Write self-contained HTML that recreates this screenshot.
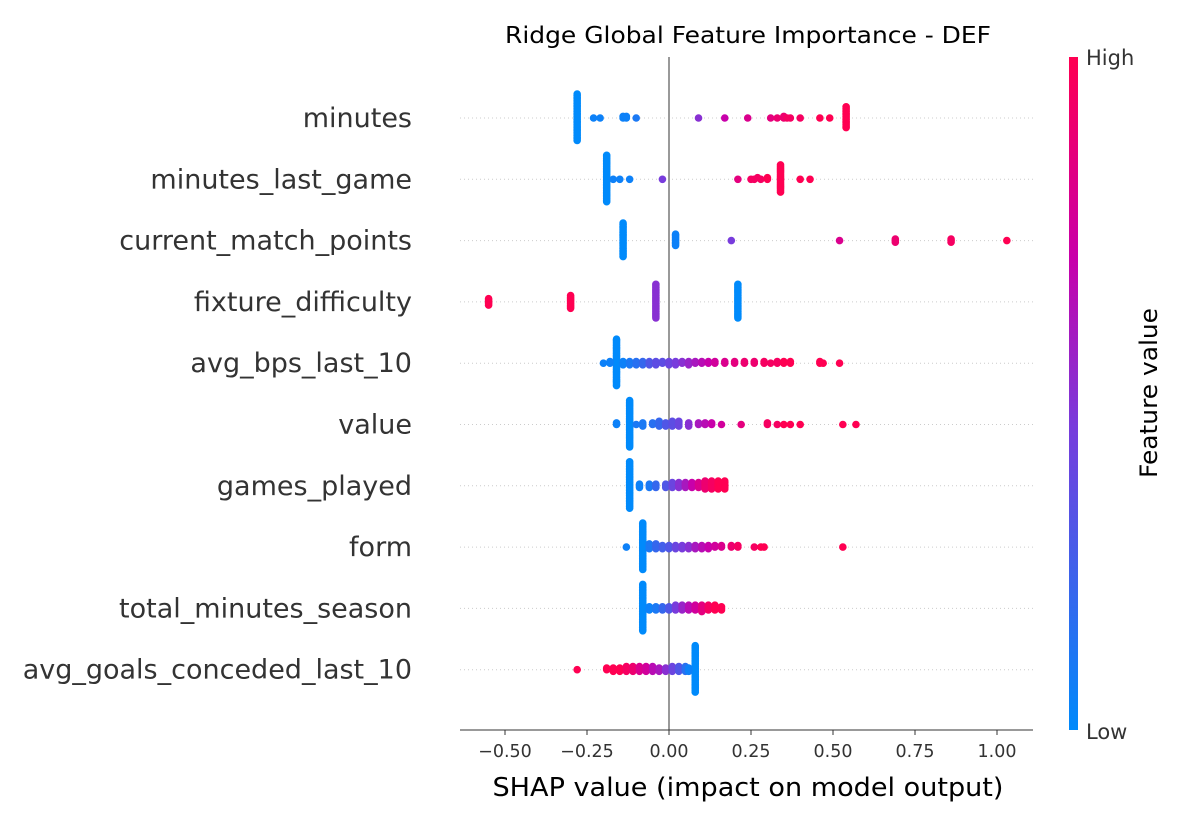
<!DOCTYPE html>
<html><head><meta charset="utf-8"><style>
body{margin:0;background:#fff;}
svg text{font-family:"DejaVu Sans","Liberation Sans",sans-serif;}
</style></head><body>
<svg id="chart" width="1200" height="825" viewBox="0 0 1200 825" xmlns="http://www.w3.org/2000/svg">
<defs>
<linearGradient id="cbar" x1="0" y1="1" x2="0" y2="0">
<stop offset="0" stop-color="rgb(0,138,251)"/>
<stop offset="0.45" stop-color="rgb(120,60,220)"/>
<stop offset="0.7" stop-color="rgb(200,0,170)"/>
<stop offset="1" stop-color="rgb(255,0,82)"/>
</linearGradient>
</defs>
<text x="748" y="43" font-size="23" textLength="486" lengthAdjust="spacingAndGlyphs" text-anchor="middle" fill="#000">Ridge Global Feature Importance - DEF</text>
<g id="grid"></g>
<line x1="669" y1="57" x2="669" y2="730" stroke="#999" stroke-width="2"/>
<g id="dots"></g>
<g id="ylabels"></g>
<line x1="460" y1="730" x2="1033" y2="730" stroke="#333" stroke-width="1"/>
<g id="xticks"></g>
<text x="748" y="796" font-size="26" textLength="511" lengthAdjust="spacingAndGlyphs" text-anchor="middle" fill="#000">SHAP value (impact on model output)</text>
<rect x="1069" y="57" width="9" height="673" fill="url(#cbar)"/>
<text x="1086" y="65" font-size="21" fill="#333">High</text>
<text x="1086" y="739" font-size="21" fill="#333">Low</text>
<text x="0" y="0" font-size="24" textLength="170" lengthAdjust="spacingAndGlyphs" fill="#000" text-anchor="middle" transform="translate(1157,393) rotate(-90)">Feature value</text>
</svg>
<script>
const features = ["minutes","minutes_last_game","current_match_points","fixture_difficulty","avg_bps_last_10","value","games_played","form","total_minutes_season","avg_goals_conceded_last_10"];
const xTicks = [-0.5,-0.25,0,0.25,0.5,0.75,1.0];
const xTickLabels = ["−0.50","−0.25","0.00","0.25","0.50","0.75","1.00"];
// each point: [shap value, feature value 0..1, count]
const sMinutes = [[-0.28,0,30],[-0.23,0.05,1],[-0.21,0.05,1],[-0.14,0.05,2],[-0.13,0.05,2],[-0.10,0.1,1],[0.09,0.5,1],[0.17,0.7,1],[0.24,0.8,1],[0.31,0.85,1],[0.33,0.9,1],[0.35,0.9,2],[0.36,0.95,1],[0.37,0.95,1],[0.40,0.95,1],[0.46,1,1],[0.49,1,1],[0.54,1,14]];
const sMinutesLast = [[-0.19,0,30],[-0.17,0.05,1],[-0.15,0.05,1],[-0.12,0.05,1],[-0.02,0.45,1],[0.21,0.85,1],[0.25,0.95,1],[0.26,0.95,1],[0.27,0.95,1],[0.28,0.95,1],[0.30,1,2],[0.34,1,18],[0.40,1,1],[0.43,1,1]];
const sCurPoints = [[-0.14,0,22],[0.02,0.05,8],[0.19,0.45,1],[0.52,0.8,1],[0.69,0.9,3],[0.86,0.95,3],[1.03,1,1]];
const sFixture = [[-0.55,1,5],[-0.30,1,9],[-0.04,0.5,22],[0.21,0,22]];
const sBps = [[-0.16,0,30],[-0.20,0.05,1],[-0.18,0.05,2],[-0.14,0.05,3],[-0.12,0.1,3],[-0.10,0.15,3],[-0.08,0.2,3],[-0.06,0.3,3],[-0.04,0.35,3],[-0.02,0.35,2],[0.00,0.4,3],[0.02,0.45,3],[0.04,0.5,2],[0.06,0.55,3],[0.08,0.6,2],[0.10,0.65,2],[0.12,0.7,2],[0.14,0.75,2],[0.17,0.8,2],[0.20,0.85,2],[0.23,0.9,2],[0.26,0.9,2],[0.29,0.95,2],[0.31,0.95,1],[0.33,0.95,2],[0.35,1,2],[0.37,1,2],[0.46,1,2],[0.47,1,1],[0.52,1,1]];
const sValue = [[-0.12,0,30],[-0.16,0.05,2],[-0.10,0.1,1],[-0.08,0.1,3],[-0.05,0.15,2],[-0.03,0.2,4],[-0.01,0.3,3],[0.01,0.35,4],[0.03,0.4,4],[0.06,0.5,3],[0.09,0.6,2],[0.11,0.65,2],[0.13,0.7,2],[0.16,0.75,1],[0.22,0.85,1],[0.30,0.95,2],[0.33,0.95,1],[0.35,1,1],[0.37,1,1],[0.40,1,1],[0.53,1,1],[0.57,1,1]];
const sGames = [[-0.12,0,30],[-0.09,0.05,3],[-0.06,0.1,3],[-0.04,0.2,3],[-0.01,0.3,3],[0.01,0.4,4],[0.03,0.5,4],[0.05,0.6,4],[0.07,0.7,4],[0.09,0.8,4],[0.11,0.9,6],[0.13,0.95,6],[0.15,1,6],[0.17,1,6]];
const sForm = [[-0.08,0,30],[-0.13,0.05,1],[-0.06,0.1,4],[-0.04,0.2,4],[-0.02,0.25,3],[0.00,0.3,3],[0.02,0.4,3],[0.04,0.45,3],[0.06,0.5,3],[0.08,0.6,3],[0.10,0.65,3],[0.12,0.7,3],[0.14,0.75,2],[0.16,0.8,2],[0.19,0.9,2],[0.21,0.95,2],[0.26,0.95,1],[0.28,1,1],[0.29,1,1],[0.53,1,1]];
const sTotalMin = [[-0.08,0,30],[-0.06,0.05,3],[-0.04,0.1,3],[-0.02,0.2,3],[0.00,0.3,3],[0.02,0.45,4],[0.04,0.55,4],[0.06,0.65,4],[0.08,0.75,4],[0.10,0.85,5],[0.12,0.95,4],[0.14,1,4],[0.16,1,3]];
const sGoalsConc = [[0.08,0,30],[-0.28,1,1],[-0.19,1,2],[-0.17,1,3],[-0.15,1,3],[-0.13,0.95,4],[-0.11,0.9,4],[-0.09,0.8,4],[-0.07,0.75,4],[-0.05,0.65,4],[-0.03,0.6,3],[-0.01,0.5,3],[0.01,0.4,4],[0.03,0.3,4],[0.05,0.15,4],[0.06,0.05,3]];
const series = [sMinutes,sMinutesLast,sCurPoints,sFixture,sBps,sValue,sGames,sForm,sTotalMin,sGoalsConc];

const NS="http://www.w3.org/2000/svg";
const xScale = v => 669 + v*328;
const yRow = i => 118 + i*61.3;
function color(t){
  const st=[[0,[0,138,251]],[0.45,[120,60,220]],[0.7,[200,0,170]],[1,[255,0,82]]];
  for(let k=0;k<st.length-1;k++){const a=st[k],b=st[k+1];
    if(t<=b[0]){const f=(t-a[0])/(b[0]-a[0]);return 'rgb('+a[1].map((c,j)=>Math.round(c+(b[1][j]-c)*f)).join(',')+')';}}
  return 'rgb(255,0,82)';
}
const grid=document.getElementById('grid'), dots=document.getElementById('dots'), yl=document.getElementById('ylabels'), xt=document.getElementById('xticks');
features.forEach((f,i)=>{
  const y=yRow(i);
  const l=document.createElementNS(NS,'line');
  l.setAttribute('x1',460);l.setAttribute('x2',1033);l.setAttribute('y1',y);l.setAttribute('y2',y);
  l.setAttribute('stroke','#ccc');l.setAttribute('stroke-dasharray','1,3');l.setAttribute('stroke-width','1');
  
  
  grid.appendChild(l);
  const t=document.createElementNS(NS,'text');
  t.setAttribute('x',412);t.setAttribute('y',y+9);t.setAttribute('text-anchor','end');t.setAttribute('font-size','27');t.setAttribute('fill','#333');
  t.textContent=f;
  
  
  yl.appendChild(t);
  const bins={};
  series[i].forEach(p=>{
    const px=xScale(p[0]);const key=Math.round(px/4);
    for(let c=0;c<p[2];c++){
      const n=bins[key]||0;bins[key]=n+1;
      const off=(n%2===0?1:-1)*Math.ceil(n/2)*1.6;
      const ci=document.createElementNS(NS,'circle');
      ci.setAttribute('cx',px);ci.setAttribute('cy',y+off);ci.setAttribute('r',3.8);ci.setAttribute('fill',color(p[1]));
      
      
      dots.appendChild(ci);
    }
  });
});
xTicks.forEach((v,k)=>{
  const x=xScale(v);
  const l=document.createElementNS(NS,'line');
  l.setAttribute('x1',x);l.setAttribute('x2',x);l.setAttribute('y1',730);l.setAttribute('y2',735);l.setAttribute('stroke','#333');
  
  
  xt.appendChild(l);
  const t=document.createElementNS(NS,'text');
  t.setAttribute('x',x);t.setAttribute('y',757);t.setAttribute('text-anchor','middle');t.setAttribute('font-size','17.5');t.setAttribute('fill','#333');
  t.textContent=xTickLabels[k];
  
  
  xt.appendChild(t);
});
</script>
</body></html>
